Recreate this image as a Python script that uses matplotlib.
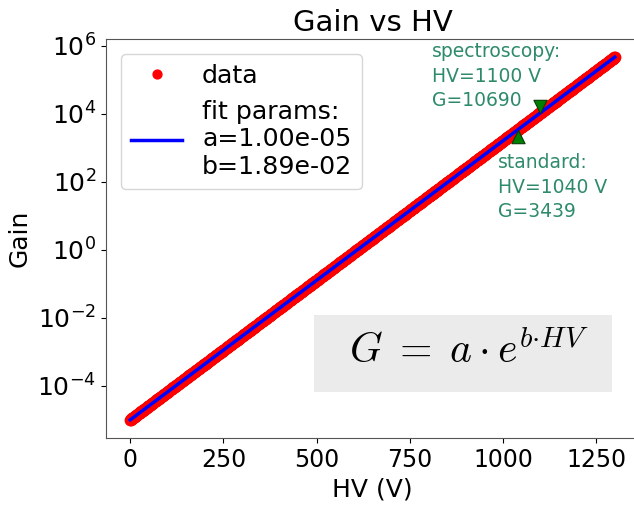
import numpy as np
import matplotlib
matplotlib.use("Agg")
import matplotlib.pyplot as plt
from matplotlib.path import Path
from matplotlib.patches import Rectangle

# Fit parameters of the exponential gain model G = a * exp(b * HV)
fit_a = 1.00e-05
fit_b = 1.89e-02

# HV scan (V) of the measured points
hv_start, hv_stop, hv_step = 0, 1300, 1
hv_data = np.arange(hv_start, hv_stop + hv_step, hv_step)
gain_data = fit_a * np.exp(fit_b * hv_data)

# Operating points
op_names = ["spectroscopy", "standard"]
op_hv = [1100, 1040]
op_gain = [10690, 3439]

x_ticks = [0, 250, 500, 750, 1000, 1250]
y_ticks = [1e-4, 1e-2, 1e0, 1e2, 1e4, 1e6]

W, H, DPI = 634, 508, 100
fig = plt.figure(figsize=(W / DPI, H / DPI), dpi=DPI)
left, right, top, bottom = 106, 639, 39, 438
ax = fig.add_axes([left / W, (H - bottom) / H, (right - left) / W, (bottom - top) / H])

ax.plot(hv_data, gain_data, "o", color="red", markersize=7.5, label="data", zorder=2)
ax.plot(hv_data, fit_a * np.exp(fit_b * hv_data), "-", color="blue", lw=2.5,
        label="fit params:\na=%.2e\nb=%.2e" % (fit_a, fit_b), zorder=3)

# Triangles whose apex sits on the operating point
tri_down = Path([(0, 0), (-1, 2), (1, 2), (0, 0)],
                [Path.MOVETO, Path.LINETO, Path.LINETO, Path.CLOSEPOLY])
tri_up = Path([(0, 0), (-1, -2), (1, -2), (0, 0)],
              [Path.MOVETO, Path.LINETO, Path.LINETO, Path.CLOSEPOLY])
ax.plot(op_hv[0], op_gain[0], marker=tri_down, ms=19, color="green",
        mec="#0a3a0a", mew=0.8, ls="none", zorder=4)
ax.plot(op_hv[1], op_gain[1], marker=tri_up, ms=19, color="green",
        mec="#0a3a0a", mew=0.8, ls="none", zorder=4)

ax.set_yscale("log")
ax.set_yticks(y_ticks)
ax.yaxis.set_minor_locator(matplotlib.ticker.NullLocator())
ax.set_xticks(x_ticks)

txt_color = "#2e8b6a"
ax.annotate("%s:\nHV=%d V\nG=%d" % (op_names[0], op_hv[0], op_gain[0]),
            xy=(op_hv[0], op_gain[0]), xytext=(432, H - 42), textcoords="figure pixels",
            color=txt_color, fontsize=13.5, va="top", ha="left", linespacing=1.38)
ax.annotate("%s:\nHV=%d V\nG=%d" % (op_names[1], op_hv[1], op_gain[1]),
            xy=(op_hv[1], op_gain[1]), xytext=(498, H - 153), textcoords="figure pixels",
            color=txt_color, fontsize=13.5, va="top", ha="left", linespacing=1.38)

# Formula box
bx0, bx1, by0, by1 = 314, 612, 315, 392
fig.add_artist(Rectangle((bx0 / W, (H - by1) / H), (bx1 - bx0) / W, (by1 - by0) / H,
                         transform=fig.transFigure, facecolor="#ebebeb",
                         edgecolor="none", zorder=5))
fig.text(469 / W, (H - 351) / H, r"$G\;=\;a \cdot e^{b{\cdot}HV}$",
         fontsize=30, ha="center", va="center", math_fontfamily="cm", zorder=6)

ax.set_title("Gain vs HV", fontsize=21)
ax.set_xlabel("HV (V)", fontsize=18)
ax.set_ylabel("Gain", fontsize=18)
ax.tick_params(axis="x", labelsize=17)
ax.tick_params(axis="y", labelsize=18)

ax.legend(loc="upper left", fontsize=18.2, markerscale=0.85, borderaxespad=0.6,
          handlelength=2.0, labelspacing=0.45)

for s in ax.spines.values():
    s.set_color("#555555")

fig.savefig("out.png", dpi=DPI)
